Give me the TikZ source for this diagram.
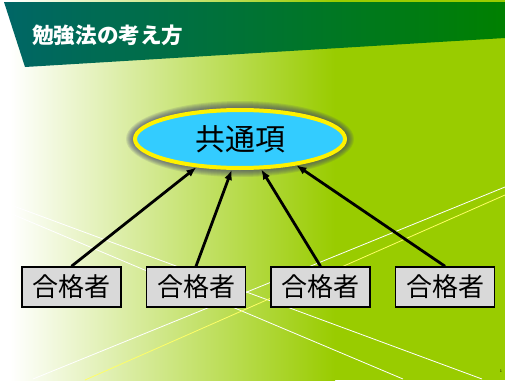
\documentclass[tikz,border=0pt]{standalone}
\usepackage{fontspec}
\newfontfamily\jpfont{Noto Sans CJK JP}
\usetikzlibrary{shapes.geometric}
\usetikzlibrary{positioning}
\usetikzlibrary{arrows.meta}
\definecolor{bggreen}{HTML}{99CC00}
\definecolor{bandleft}{HTML}{006666}
\definecolor{bandright}{HTML}{008000}
\definecolor{hubblue}{HTML}{33CCFF}
\definecolor{glowblue}{HTML}{3C3C6E}
\definecolor{boxgray}{HTML}{D9D9D9}
\definecolor{paleyellow}{HTML}{FFFF66}

\begin{document}
\begin{tikzpicture}[x=1pt,y=-1pt,node distance=24pt,
  member/.style={draw,line width=1.5pt,fill=boxgray,minimum width=99pt,minimum height=40pt,inner sep=0pt,font=\jpfont\fontsize{26}{26}\selectfont},
  link/.style={line width=2.8pt,-{Latex[length=10pt,width=8pt]}}]
\useasboundingbox (0,0) rectangle (505,380);

% background and title band
\shade[left color=white,right color=bggreen] (10,0) rectangle (335,380);
\fill[white] (0,0) rectangle (10,380);
\fill[bggreen] (335,0) rectangle (505,380);
\draw[white,line width=0.8pt] (0,201) -- (482,379);
\draw[white,line width=0.8pt] (0,209) -- (403,379);
\draw[white,line width=0.8pt] (33,379) -- (505,187);
\draw[paleyellow,line width=0.8pt] (85,380) -- (505,195);
\shade[left color=bandleft,right color=bandright] (4,2) -- (505,2) -- (505,38) -- (25,67) -- cycle;
\node (title) [anchor=west,text=white,inner sep=0pt,font=\jpfont\bfseries\fontsize{21.6}{21.6}\selectfont] at (32,35) {勉強法の考え方};

% common item
\foreach \g in {1,...,8}
  \fill[glowblue,opacity=0.12] (240,139) ellipse [x radius={(106+\g)*1pt},y radius={(30+\g)*1pt}];
\node (hub) [ellipse,draw=yellow,line width=4pt,fill=hubblue,minimum width=210pt,minimum height=58pt,inner sep=0pt,font=\jpfont\fontsize{30}{30}\selectfont] at (240,139) {共通項};

% four members
\node (reg_0) [member] at (71.5,287) {合格者};
\node (reg_1) [member,right = of reg_0] {合格者};
\node (reg_2) [member,right = of reg_1] {合格者};
\node (reg_3) [member,right = of reg_2] {合格者};

\draw[link] (reg_0.north) -- (hub.213);
\draw[link] (reg_1.north) -- (hub.255);
\draw[link] (reg_2.north) -- (hub.305);
\draw[link] (reg_3.north) -- (hub.335);

\node (pageno) [inner sep=0pt,font=\fontsize{4}{4}\selectfont] at (501,371) {1};
\end{tikzpicture}
\end{document}
